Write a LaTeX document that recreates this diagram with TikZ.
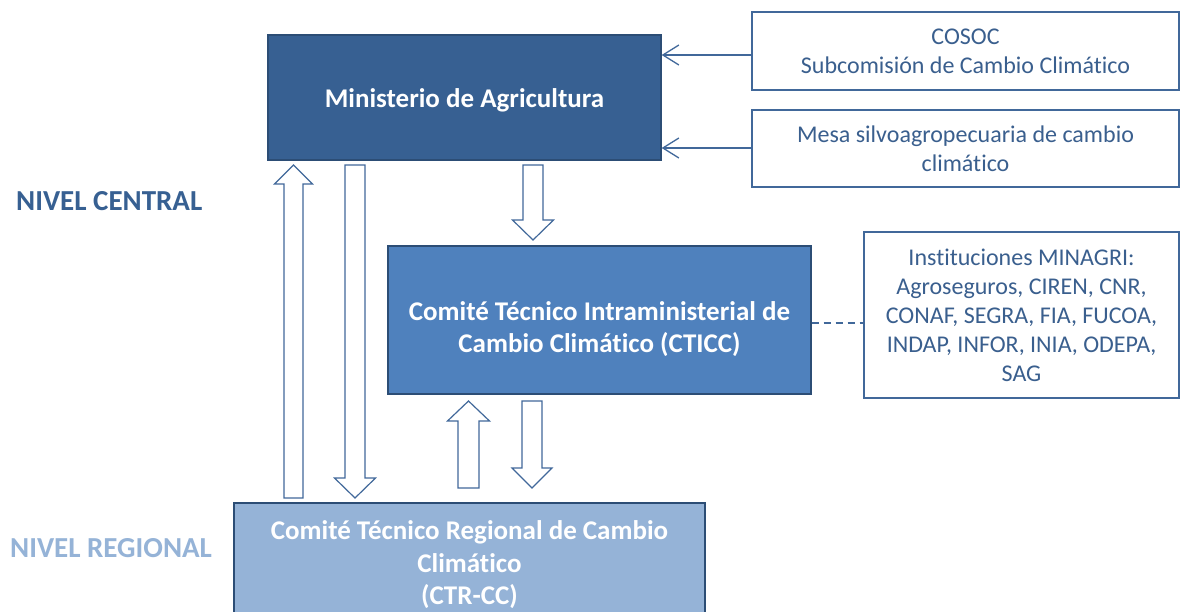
\documentclass[tikz,border=0pt]{standalone}
\usepackage{fontspec}
\setmainfont{Carlito}[Ligatures={NoCommon}]
\usetikzlibrary{arrows.meta}
\definecolor{dblue}{HTML}{376092}
\definecolor{mblue}{HTML}{4F81BD}
\definecolor{lblue}{HTML}{95B3D7}
\definecolor{edgeblue}{HTML}{2C4D75}
\definecolor{lineblue}{HTML}{41689A}
\definecolor{txtblue}{HTML}{3A5F8E}
\tikzset{
  filledbox/.style={draw=edgeblue, line width=1.3pt, align=center, text=white, font=\bfseries\fontsize{27}{32}\selectfont, inner sep=0pt},
  boxtext/.style={align=center, text=white, font=\bfseries\fontsize{27}{32}\selectfont, inner sep=0pt},
  sidebox/.style={draw=lineblue, line width=1.3pt, fill=white, align=center, text=txtblue, font=\fontsize{24}{29}\selectfont, inner sep=0pt},
  blockarrow/.style={draw=lineblue, line width=1.2pt, fill=white, line join=miter},
  barb/.style={draw=lineblue, line width=1.3pt, -{Straight Barb[length=16pt,width=20pt,line width=1.3pt]}},
  levellabel/.style={font=\bfseries\fontsize{29}{34}\selectfont, anchor=west, inner sep=0pt}
}
\newcommand{\blockarr}[6]{% xc, tail, headbase, tip, shaft half width, head half width
  \draw[blockarrow] ({#1-#5},#2) -- ({#1-#5},#3) -- ({#1-#6},#3) -- (#1,#4) -- ({#1+#6},#3) -- ({#1+#5},#3) -- ({#1+#5},#2) -- cycle;}
\begin{document}
\begin{tikzpicture}[x=1pt,y=-1pt]
\clip (0,0) rectangle (1180,611);
\fill[white] (0,0) rectangle (1180,611);
% main boxes
\node[filledbox, fill=dblue, minimum width=393pt, minimum height=125pt] (min) at (464.5,97.5) {};
\node[boxtext] (mintext) at ([yshift=-3pt]min.center) {Ministerio de Agricultura};
\node[filledbox, fill=mblue, minimum width=423pt, minimum height=148pt] (cticc) at (599.5,320) {};
\node[boxtext] (cticctext) at ([yshift=-9pt]cticc.center) {Comité Técnico Intraministerial de\\Cambio Climático (CTICC)};
\node[filledbox, fill=lblue, minimum width=471pt, minimum height=124pt, font=\bfseries\fontsize{27}{32.5}\selectfont] (ctr) at (469.5,565) {Comité Técnico Regional de Cambio\\Climático\\(CTR-CC)};
% side boxes
\node[sidebox, minimum width=427pt, minimum height=78pt] (cosoc) at (965.5,51) {COSOC\\Subcomisión de Cambio Climático};
\node[sidebox, minimum width=427pt, minimum height=77pt] (mesa) at (965.5,148.5) {Mesa silvoagropecuaria de cambio\\climático};
\node[sidebox, minimum width=315pt, minimum height=166pt] (inst) at (1021.5,315) {Instituciones MINAGRI:\\Agroseguros, CIREN, CNR,\\CONAF, SEGRA, FIA, FUCOA,\\INDAP, INFOR, INIA, ODEPA,\\SAG};
% level labels
\node[levellabel, text=dblue] (central) at (16,201) {NIVEL CENTRAL};
\node[levellabel, text=lblue] (regional) at (10,548) {NIVEL REGIONAL};
% connectors
\draw[barb] (cosoc.west |- 0,55) -- (min.east |- 0,55);
\draw[barb] (mesa.west |- 0,148) -- (min.east |- 0,148);
\draw[lineblue, line width=1.3pt, dash pattern=on 7pt off 5pt] (cticc.east |- 0,323) -- (inst.west |- 0,323);
% block arrows
\blockarr{293.5}{498}{184}{165}{9.5}{19}
\blockarr{355}{165}{478}{498}{10}{20.5}
\blockarr{533}{165}{220}{240}{10}{20.5}
\blockarr{468.5}{488}{421}{401}{10.5}{21}
\blockarr{532}{401}{468}{488}{10}{20}
\end{tikzpicture}
\end{document}
